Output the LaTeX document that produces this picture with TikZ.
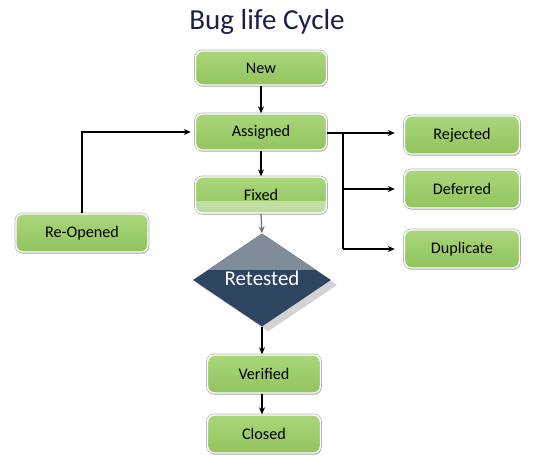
\documentclass[tikz,border=0pt]{standalone}
\usepackage{fontspec}
\setmainfont{Carlito}
\usetikzlibrary{shadows,arrows.meta,shapes.geometric}
\definecolor{gtop}{HTML}{A9D67A}
\definecolor{gbot}{HTML}{92C45E}
\definecolor{dtop}{HTML}{7F8D9B}
\definecolor{dbot}{HTML}{2E4562}
\definecolor{titlec}{HTML}{1B1F4B}
\begin{document}
\begin{tikzpicture}[x=1pt,y=-1pt,
  box/.style={rounded corners=7pt, inner sep=0pt,
    top color=gtop, bottom color=gbot,
    preaction={draw=black!30, line width=2.8pt},
    drop shadow={shadow xshift=1pt, shadow yshift=-2pt, opacity=0.3},
    draw=white, line width=1.4pt,
    font=\fontsize{16.2}{18}\selectfont},
  arr/.style={-{Stealth[length=7pt,width=6pt]}, line width=1.2pt},
  ln/.style={line width=1.2pt}]
\useasboundingbox (0,0) rectangle (540,472);
\node[font=\fontsize{29}{32}\selectfont, text=titlec] (title) at (267,22) {Bug life Cycle};
\node[box, minimum width=131pt, minimum height=34pt] (new) at (261,68) {New};
\node[box, minimum width=131pt, minimum height=36pt] (assigned) at (261,132) {Assigned};
\node[box, minimum width=131pt, minimum height=36pt] (fixed) at (261,195) {Fixed};
\begin{scope}
  \clip[rounded corners=7pt] (fixed.south west) rectangle (fixed.north east);
  \fill[white, opacity=0.4] (fixed.west |- 0,201) rectangle (fixed.south east);
\end{scope}
\node[box, minimum width=132pt, minimum height=38pt] (reopen) at (82,233) {Re-Opened};
\node[box, minimum width=115pt, minimum height=38pt] (rejected) at (462,135) {Rejected};
\node[box, minimum width=115pt, minimum height=38pt] (deferred) at (462,189) {Deferred};
\node[box, minimum width=115pt, minimum height=38pt] (duplicate) at (462,249) {Duplicate};
\node[diamond, inner sep=0pt, minimum width=138pt, minimum height=93pt,
  fill=dbot, text=white, font=\fontsize{21}{24}\selectfont,
  drop shadow={shadow xshift=6pt, shadow yshift=-5pt, opacity=0.35},
  path picture={\fill[dtop] (path picture bounding box.north west) rectangle ([yshift=10pt]path picture bounding box.east);}]
  (retested) at (262,280) {\raisebox{3pt}{Retested}};
\node[box, minimum width=113pt, minimum height=38pt] (verified) at (264,374) {Verified};
\node[box, minimum width=113pt, minimum height=38pt] (closed) at (264,434) {Closed};
% connectors
\draw[arr] (new.south) -- (assigned.north);
\draw[arr] (assigned.south) -- (fixed.north);
\draw[arr, draw=black!55, fill=black!55] (fixed.south) -- (retested.north);
\draw[arr] (retested.south) -- (retested.south |- verified.north);
\draw[arr] (verified.south -| retested.south) -- (retested.south |- closed.north);
\draw[arr, shorten >=4pt] (reopen.north) |- (assigned.west);
\coordinate (j) at (343,133);
\draw[ln] (assigned.east |- j) -- (j) -- (j |- duplicate.west);
\draw[arr, shorten >=9pt] (j) -- (j -| rejected.west);
\draw[arr, shorten >=9pt] (j |- deferred.west) -- (deferred.west);
\draw[arr, shorten >=9pt] (j |- duplicate.west) -- (duplicate.west);
\end{tikzpicture}
\end{document}
